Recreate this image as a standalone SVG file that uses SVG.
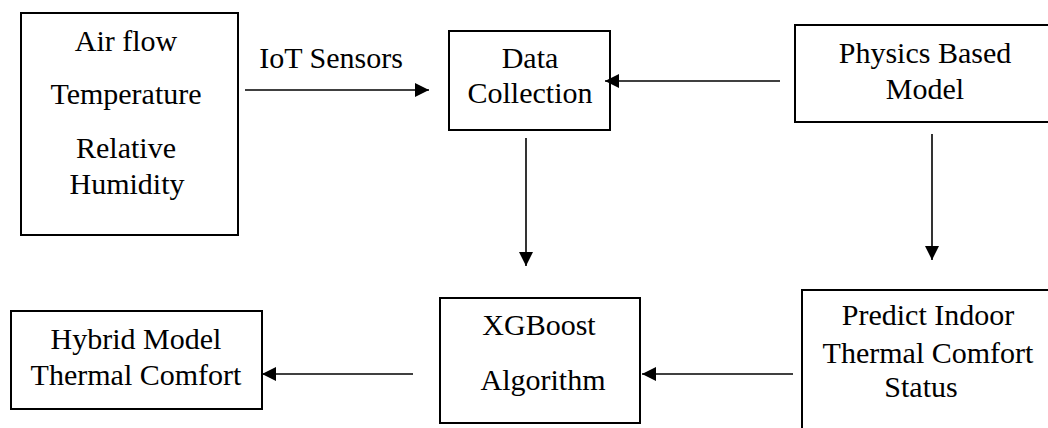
<svg xmlns="http://www.w3.org/2000/svg" width="1048" height="428" viewBox="0 0 1048 428">
<style>
.box{fill:#fff;stroke:#000;stroke-width:2}
.t{font-family:"Liberation Serif","Times New Roman",serif;font-size:30px;fill:#000;text-anchor:middle}
.c{stroke:#000;stroke-width:1.6;fill:none;marker-end:url(#ah)}
</style>
<defs>
<marker id="ah" markerUnits="userSpaceOnUse" markerWidth="16" markerHeight="16" refX="14" refY="7" orient="auto">
<path d="M0,0 L14,7 L0,14 z" fill="#000"/>
</marker>
</defs>
<rect width="1048" height="428" fill="#fff"/>
<g id="inputs">
<rect class="box" x="21" y="13" width="217" height="222"/>
<text class="t" x="126" y="51">Air flow</text>
<text class="t" x="126" y="104">Temperature</text>
<text class="t" x="126" y="158">Relative</text>
<text class="t" x="127" y="194">Humidity</text>
</g>
<g id="data-collection">
<rect class="box" x="449" y="31" width="161" height="99"/>
<text class="t" x="530" y="68">Data</text>
<text class="t" x="530" y="103">Collection</text>
</g>
<g id="physics-model">
<rect class="box" x="795" y="25" width="270" height="97"/>
<text class="t" x="925" y="63">Physics Based</text>
<text class="t" x="925" y="99">Model</text>
</g>
<g id="xgboost">
<rect class="box" x="440" y="298" width="200" height="125"/>
<text class="t" x="539" y="335">XGBoost</text>
<text class="t" x="543" y="390">Algorithm</text>
</g>
<g id="predict">
<rect class="box" x="802" y="290" width="270" height="150"/>
<text class="t" x="928" y="325">Predict Indoor</text>
<text class="t" x="928" y="363">Thermal Comfort</text>
<text class="t" x="921" y="397">Status</text>
</g>
<g id="hybrid">
<rect class="box" x="11" y="311" width="251" height="98"/>
<text class="t" x="136" y="349">Hybrid Model</text>
<text class="t" x="136" y="385">Thermal Comfort</text>
</g>
<g id="connectors">
<line class="c" x1="245" y1="90" x2="429" y2="90"/>
<text class="t" x="331" y="68">IoT Sensors</text>
<line class="c" x1="780" y1="81" x2="605" y2="81"/>
<line class="c" x1="526" y1="138" x2="526" y2="266"/>
<line class="c" x1="932" y1="134" x2="932" y2="260"/>
<line class="c" x1="793" y1="374" x2="642" y2="374"/>
<line class="c" x1="413" y1="374" x2="262" y2="374"/>
</g>
</svg>
